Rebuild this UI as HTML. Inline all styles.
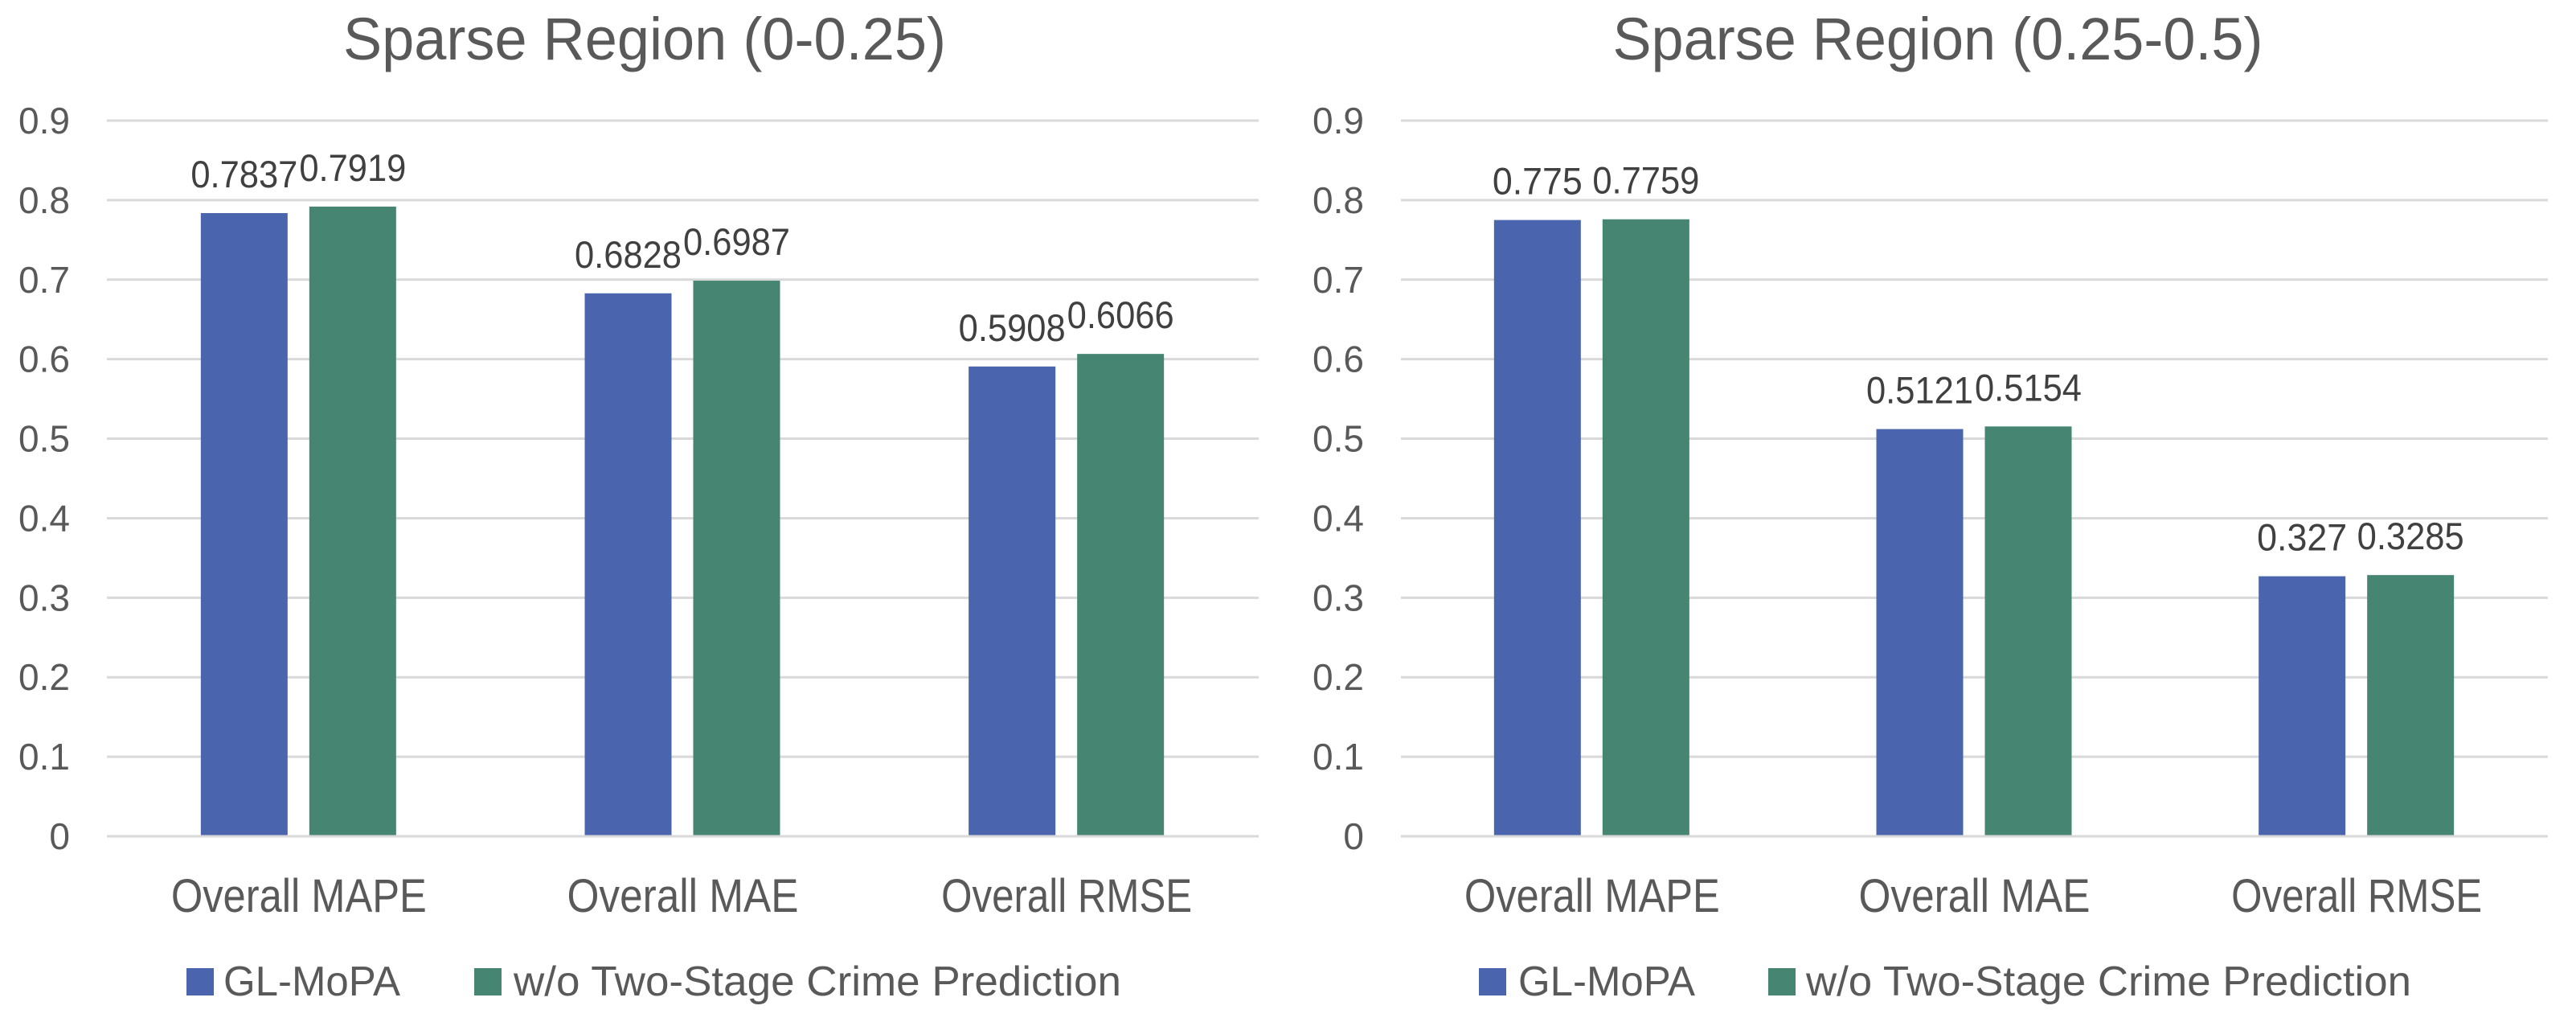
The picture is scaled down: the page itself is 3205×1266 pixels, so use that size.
<!DOCTYPE html>
<html><head><meta charset="utf-8"><style>
html,body{margin:0;padding:0;background:#fff;}
svg{display:block;font-family:"Liberation Sans",sans-serif;}
</style></head><body>
<svg id="chart" width="3205" height="1266" viewBox="0 0 3205 1266" xmlns="http://www.w3.org/2000/svg"></svg>
<script>
const categories = ["Overall MAPE", "Overall MAE", "Overall RMSE"];
const seriesNames = ["GL-MoPA", "w/o Two-Stage Crime Prediction"];
const leftTitle = "Sparse Region (0-0.25)";
const rightTitle = "Sparse Region (0.25-0.5)";
const leftGL = [0.7837, 0.6828, 0.5908];
const leftWO = [0.7919, 0.6987, 0.6066];
const rightGL = [0.775, 0.5121, 0.327];
const rightWO = [0.7759, 0.5154, 0.3285];
const leftGLLabels = ["0.7837", "0.6828", "0.5908"];
const leftWOLabels = ["0.7919", "0.6987", "0.6066"];
const rightGLLabels = ["0.775", "0.5121", "0.327"];
const rightWOLabels = ["0.7759", "0.5154", "0.3285"];
const yTicks = [0, 0.1, 0.2, 0.3, 0.4, 0.5, 0.6, 0.7, 0.8, 0.9];
const yTickLabels = ["0", "0.1", "0.2", "0.3", "0.4", "0.5", "0.6", "0.7", "0.8", "0.9"];

const NS = "http://www.w3.org/2000/svg";
const svg = document.getElementById('chart');
const colors = ["#4a65ae", "#468572"];
const catWidths = [318, 288, 312];
function mk(tag, attrs, parent, text) {
  const e = document.createElementNS(NS, tag);
  for (const k in attrs) e.setAttribute(k, attrs[k]);
  if (text !== undefined) e.textContent = text;
  (parent || svg).appendChild(e);
  return e;
}
function drawPanel(cfg) {
  const g = mk('g', {});
  
  
  const y0 = 1040, y9 = 150;
  const yScale = v => y0 - (v / 0.9) * (y0 - y9);
  const bandW = (cfg.x1 - cfg.x0) / categories.length;
  const xBand = i => cfg.x0 + bandW * (i + 0.5);
  const t = mk('text', {x: cfg.titleX, y: 74, 'text-anchor': 'middle', 'font-size': 74, fill: '#595959', textLength: cfg.titleW, lengthAdjust: 'spacingAndGlyphs'}, g, cfg.title);
  
  
  yTicks.forEach((v, i) => {
    const y = yScale(v);
    const l = mk('line', {x1: cfg.x0, x2: cfg.x1, y1: y, y2: y, stroke: '#d9d9d9', 'stroke-width': 3}, g);
    
    
    const tl = mk('text', {x: cfg.tickX, y: y + 16, 'text-anchor': 'end', 'font-size': 46, fill: '#595959'}, g, yTickLabels[i]);
    
    
  });
  const series = [cfg.a, cfg.b];
  const labels = [cfg.al, cfg.bl];
  const offsets = [-122, 13];
  series.forEach((vals, s) => {
    vals.forEach((v, i) => {
      const x = xBand(i) + offsets[s];
      const y = yScale(v);
      const r = mk('rect', {x: x, y: y, width: 108, height: y0 - y - 1.5, fill: colors[s]}, g);
      
      
      const txt = labels[s][i];
      const dl = mk('text', {x: x + 54, y: y - 32, 'text-anchor': 'middle', 'font-size': 47, fill: '#404040', textLength: txt.length === 6 ? 133 : 112, lengthAdjust: 'spacingAndGlyphs'}, g, txt);
      
      
    });
  });
  categories.forEach((c, i) => {
    const ct = mk('text', {x: xBand(i), y: 1134, 'text-anchor': 'middle', 'font-size': 58, fill: '#595959', textLength: catWidths[i], lengthAdjust: 'spacingAndGlyphs'}, g, c);
    
    
  });
  const lg = mk('g', {}, g);
  
  
  cfg.legend.forEach((L, s) => {
    const sw = mk('rect', {x: L.sx, y: 1204, width: 34, height: 34, fill: colors[s]}, lg);
    
    
    const lt = mk('text', {x: L.tx, y: 1238, 'font-size': 52, fill: '#595959', textLength: L.tw, lengthAdjust: 'spacingAndGlyphs'}, lg, seriesNames[s]);
    
    
  });
}
drawPanel({name: 'left-panel', title: leftTitle, titleX: 802, titleW: 750, x0: 133, x1: 1566, tickX: 87,
  a: leftGL, b: leftWO, al: leftGLLabels, bl: leftWOLabels,
  legend: [{sx: 232, tx: 278, tw: 220}, {sx: 590, tx: 639, tw: 756}]});
drawPanel({name: 'right-panel', title: rightTitle, titleX: 2411, titleW: 809, x0: 1743, x1: 3170, tickX: 1697,
  a: rightGL, b: rightWO, al: rightGLLabels, bl: rightWOLabels,
  legend: [{sx: 1840, tx: 1889, tw: 220}, {sx: 2200, tx: 2247, tw: 753}]});
</script>
</body></html>
